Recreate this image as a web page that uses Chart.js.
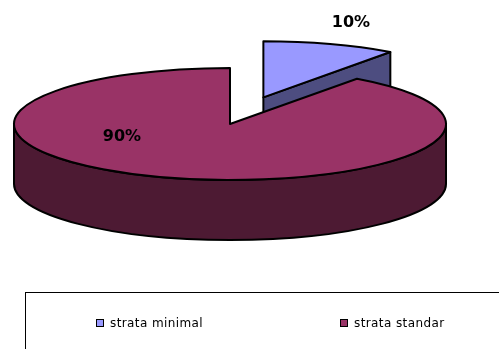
<!DOCTYPE html>
<html lang="id">
<head>
<meta charset="utf-8"/>
<title>strata</title>
<script src="https://cdn.jsdelivr.net/npm/chart.js"></script>
<style>
        html, body {
            margin: 0;
            padding: 0;
            background: #ffffff;
            overflow: hidden;
        }
        .wrap {
            position: relative;
            width: 499px;
            height: 349px;
            overflow: hidden;
        }
        #pie {
            position: absolute;
            left: 0;
            top: 0;
        }
        .legend {
            position: absolute;
            left: 25px;
            top: 292px;
            width: 520px;
            height: 100px;
            border: 1.5px solid #000;
            font-family: 'DejaVu Sans', sans-serif;
            font-size: 12px;
            letter-spacing: 0.4px;
            color: #000;
        }
        .legend-item {
            position: absolute;
            top: 23px;
            display: flex;
            align-items: center;
            white-space: nowrap;
        }
        .legend-box {
            width: 6px;
            height: 6px;
            border: 1px solid #000;
            margin-right: 6px;
        }
    </style>
</head>
<body>
<div class="wrap">
<canvas id="pie" width="499" height="349"></canvas>
<div class="legend" id="legend"></div>
</div>
<script>
        // data
        const labels = ['strata minimal', 'strata standar'];
        const values = [10, 90];
        const topColors = ['#9999FF', '#993366'];
        const sideColors = ['#4D4D80', '#4D1A33'];

        // 3D pie drawn from the arc angles computed by chart.js
        const pie3d = {
            id: 'pie3d',
            beforeDatasetsDraw(chart, args, opts) {
                const ctx = chart.ctx;
                const arcs = chart.getDatasetMeta(0).data;
                const { cx, cy, rx, ry, depth, explode } = opts;
                const mid = a => (a.startAngle + a.endAngle) / 2;
                const origin = (a, i) => {
                    const m = mid(a), f = explode[i] || 0;
                    return [cx + Math.cos(m) * rx * f, cy + Math.sin(m) * ry * f];
                };
                const order = arcs.map((a, i) => i)
                    .sort((i, j) => origin(arcs[i], i)[1] - origin(arcs[j], j)[1]);

                ctx.save();
                ctx.lineWidth = 2;
                ctx.strokeStyle = '#000';
                ctx.lineJoin = 'round';
                order.forEach(i => {
                    const a = arcs[i];
                    const [ox, oy] = origin(a, i);
                    const s = a.startAngle, e = a.endAngle;
                    const px = t => ox + rx * Math.cos(t);
                    const py = t => oy + ry * Math.sin(t);
                    ctx.fillStyle = sideColors[i];

                    // radial walls facing the viewer
                    const wall = t => {
                        ctx.beginPath();
                        ctx.moveTo(ox, oy);
                        ctx.lineTo(px(t), py(t));
                        ctx.lineTo(px(t), py(t) + depth);
                        ctx.lineTo(ox, oy + depth);
                        ctx.closePath();
                        ctx.fill();
                        ctx.stroke();
                    };
                    if (Math.cos(s) < -1e-6) wall(s);
                    if (Math.cos(e) > 1e-6) wall(e);

                    // outer wall, front half only
                    for (let k = -1; k <= 1; k++) {
                        const a0 = Math.max(s, 2 * Math.PI * k);
                        const a1 = Math.min(e, 2 * Math.PI * k + Math.PI);
                        if (a1 <= a0) continue;
                        ctx.beginPath();
                        ctx.ellipse(ox, oy, rx, ry, 0, a0, a1);
                        ctx.lineTo(px(a1), py(a1) + depth);
                        ctx.ellipse(ox, oy + depth, rx, ry, 0, a1, a0, true);
                        ctx.closePath();
                        ctx.fill();
                        ctx.stroke();
                    }

                    // top face
                    ctx.fillStyle = topColors[i];
                    ctx.beginPath();
                    ctx.moveTo(ox, oy);
                    ctx.ellipse(ox, oy, rx, ry, 0, s, e);
                    ctx.closePath();
                    ctx.fill();
                    ctx.stroke();
                });

                // percentage labels
                const total = values.reduce((p, v) => p + v, 0);
                ctx.fillStyle = '#000';
                ctx.font = 'bold 16px "DejaVu Sans", sans-serif';
                ctx.textAlign = 'center';
                ctx.textBaseline = 'middle';
                values.forEach((v, i) => {
                    const [lx, ly] = opts.labelPos[i];
                    ctx.fillText(Math.round(v / total * 100) + '%', lx, ly);
                });
                ctx.restore();
                return false;
            }
        };

        new Chart(document.getElementById('pie'), {
            type: 'pie',
            data: {
                labels: labels,
                datasets: [{
                    data: values,
                    backgroundColor: topColors,
                    borderWidth: 0
                }]
            },
            options: {
                responsive: false,
                animation: false,
                events: [],
                plugins: {
                    legend: { display: false },
                    tooltip: { enabled: false },
                    pie3d: {
                        cx: 230,
                        cy: 124,
                        rx: 216,
                        ry: 56,
                        depth: 60,
                        explode: [0.5, 0],
                        labelPos: [[351, 23], [122, 137]]
                    }
                }
            },
            plugins: [pie3d]
        });

        // legend
        const legendLeft = [70, 314];
        const legend = document.getElementById('legend');
        labels.forEach((name, i) => {
            const item = document.createElement('div');
            item.className = 'legend-item';
            item.style.left = legendLeft[i] + 'px';
            item.innerHTML = '<span class="legend-box" style="background:' + topColors[i] + '"></span>' + name;
            legend.appendChild(item);
        });
    </script>
</body>
</html>
